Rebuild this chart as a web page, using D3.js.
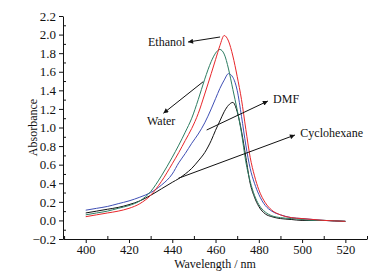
<!DOCTYPE html>
<html>
<head>
<meta charset="utf-8">
<script src="https://cdn.jsdelivr.net/npm/d3@7"></script>
<style>
	body { margin: 0; background: #fff; }
	#spectra-area text { font-family: "Liberation Serif", "Times New Roman", serif; fill: #111; }
	.axis path, .axis line { stroke: #111; stroke-width: 1; }
</style>
</head>
<body>
<div id="spectra-area"></div>
<script>

// wavelength grid (nm)
let wavelength = [400, 405, 410, 415, 420, 425, 430, 435, 440, 443, 446, 449, 452, 455, 458, 460, 462, 464, 466, 468,
	470, 472, 474, 476, 478, 480, 483, 486, 490, 495, 500, 505, 510, 515, 520];

// absorbance
let ethanol = [0.04, 0.06, 0.08, 0.10, 0.13, 0.18, 0.27, 0.42, 0.61, 0.73, 0.86, 0.99, 1.15, 1.36, 1.58, 1.73, 1.88, 1.99, 1.93, 1.77,
	1.55, 1.30, 0.98, 0.68, 0.48, 0.33, 0.19, 0.11, 0.06, 0.03, 0.02, 0.01, 0.0, -0.005, -0.01];
let water = [0.06, 0.08, 0.10, 0.13, 0.16, 0.21, 0.31, 0.48, 0.68, 0.81, 0.95, 1.10, 1.30, 1.52, 1.71, 1.80, 1.84, 1.79, 1.63, 1.41,
	1.19, 0.94, 0.63, 0.42, 0.27, 0.17, 0.09, 0.05, 0.03, 0.02, 0.01, 0.0, 0.0, -0.005, -0.01];
let dmf = [0.11, 0.13, 0.15, 0.18, 0.21, 0.25, 0.30, 0.38, 0.50, 0.62, 0.72, 0.83, 0.93, 1.05, 1.20, 1.31, 1.42, 1.51, 1.58, 1.54,
	1.40, 1.12, 0.81, 0.56, 0.40, 0.28, 0.16, 0.10, 0.06, 0.03, 0.02, 0.01, 0.0, -0.005, -0.01];
let cyclohexane = [0.08, 0.10, 0.12, 0.14, 0.17, 0.21, 0.27, 0.34, 0.41, 0.45, 0.50, 0.56, 0.64, 0.73, 0.86, 0.97, 1.07, 1.17, 1.24, 1.27,
	1.17, 0.96, 0.68, 0.40, 0.25, 0.15, 0.07, 0.04, 0.02, 0.01, 0.0, 0.0, 0.0, -0.005, -0.01];

let seriesNames = ["Cyclohexane", "DMF", "Water", "Ethanol"];
let seriesValues = [cyclohexane, dmf, water, ethanol];
let seriesColors = ["#111111", "#3f4fb5", "#2d7d62", "#e8262a"];

// tick labels
let xTicks = [400, 420, 440, 460, 480, 500, 520];
let yTicks = [-0.2, 0.0, 0.2, 0.4, 0.6, 0.8, 1.0, 1.2, 1.4, 1.6, 1.8, 2.0, 2.2];

// annotations: label anchor and arrow (tail -> head) in data units
let labelText = ["Ethanol", "Water", "DMF", "Cyclohexane"];
let labelAt = [[428.8, 1.877], [428.3, 1.027], [486.6, 1.264], [499.2, 0.898]];
let arrowFrom = [[462.1, 1.974], [454.3, 1.493], [455.9, 0.973], [442.8, 0.453]];
let arrowTo = [[447.3, 1.92], [435.9, 1.153], [484.2, 1.285], [496.7, 0.919]];


class SpectraVis {

	constructor(parentElement) {
		this.parentElement = parentElement;
		this.initVis();
	}

	initVis() {
		let vis = this;

		vis.margin = { top: 16, right: 13, bottom: 33, left: 63 };
		vis.width = 380 - vis.margin.left - vis.margin.right;
		vis.height = 272 - vis.margin.top - vis.margin.bottom;

		vis.root = d3.select("#" + vis.parentElement).append("svg")
			.attr("width", 380)
			.attr("height", 272);

		vis.root.append("defs").append("marker")
			.attr("id", "head")
			.attr("viewBox", "0 0 10 10")
			.attr("refX", 10)
			.attr("refY", 5)
			.attr("markerUnits", "userSpaceOnUse")
			.attr("markerWidth", 7)
			.attr("markerHeight", 5)
			.attr("orient", "auto")
			.append("path")
			.attr("d", "M0,0 L10,5 L0,10 Z")
			.attr("fill", "#111");

		vis.svg = vis.root.append("g")
			.attr("transform", "translate(" + vis.margin.left + "," + vis.margin.top + ")");

		vis.x = d3.scaleLinear()
			.domain([389.5, 530])
			.range([0, vis.width]);

		vis.y = d3.scaleLinear()
			.domain([-0.2, 2.2])
			.range([vis.height, 0]);

		vis.wrangleData();
	}

	wrangleData() {
		let vis = this;

		vis.displayData = seriesNames.map((name, i) => ({
			name: name,
			color: seriesColors[i],
			values: wavelength.map((w, j) => ({ w: w, a: seriesValues[i][j] }))
		}));

		vis.updateVis();
	}

	updateVis() {
		let vis = this;

		// minor ticks point inward, majors outward
		let xMinor = d3.range(390, 531, 10).filter(d => !xTicks.includes(d));
		let yMinor = d3.range(-0.1, 2.2, 0.2);

		vis.svg.append("g")
			.attr("class", "axis")
			.attr("transform", "translate(0," + vis.height + ")")
			.call(d3.axisTop(vis.x).tickValues(xMinor).tickSize(3).tickFormat("").tickSizeOuter(0))
			.select(".domain").remove();

		vis.svg.append("g")
			.attr("class", "axis")
			.call(d3.axisRight(vis.y).tickValues(yMinor).tickSize(3).tickFormat("").tickSizeOuter(0))
			.select(".domain").remove();

		vis.svg.append("g")
			.attr("class", "axis x-axis")
			.attr("transform", "translate(0," + vis.height + ")")
			.call(d3.axisBottom(vis.x).tickValues(xTicks).tickSize(4).tickSizeOuter(0).tickPadding(2))
			.selectAll("text")
			.style("font-size", "12.5px");

		vis.svg.append("g")
			.attr("class", "axis y-axis")
			.call(d3.axisLeft(vis.y).tickValues(yTicks).tickSize(4).tickSizeOuter(0).tickPadding(3)
				.tickFormat(d3.format(".1f")))
			.selectAll("text")
			.style("font-size", "13px");

		vis.svg.append("text")
			.attr("x", vis.width / 2)
			.attr("y", vis.height + 29)
			.attr("text-anchor", "middle")
			.style("font-size", "12px")
			.text("Wavelength / nm");

		vis.svg.append("text")
			.attr("transform", "translate(-30," + (vis.height / 2) + ") rotate(-90)")
			.attr("text-anchor", "middle")
			.attr("dy", "0.35em")
			.style("font-size", "12px")
			.text("Absorbance");

		let line = d3.line()
			.x(d => vis.x(d.w))
			.y(d => vis.y(d.a))
			.curve(d3.curveMonotoneX);

		vis.svg.selectAll(".spectrum")
			.data(vis.displayData)
			.enter()
			.append("path")
			.attr("class", "spectrum")
			.attr("fill", "none")
			.attr("stroke", d => d.color)
			.attr("stroke-width", 1)
			.attr("d", d => line(d.values));

		vis.svg.selectAll(".arrow")
			.data(labelText)
			.enter()
			.append("line")
			.attr("class", "arrow")
			.attr("x1", (d, i) => vis.x(arrowFrom[i][0]))
			.attr("y1", (d, i) => vis.y(arrowFrom[i][1]))
			.attr("x2", (d, i) => vis.x(arrowTo[i][0]))
			.attr("y2", (d, i) => vis.y(arrowTo[i][1]))
			.attr("stroke", "#111")
			.attr("stroke-width", 1)
			.attr("marker-end", "url(#head)");

		vis.svg.selectAll(".label")
			.data(labelText)
			.enter()
			.append("text")
			.attr("class", "label")
			.attr("x", (d, i) => vis.x(labelAt[i][0]))
			.attr("y", (d, i) => vis.y(labelAt[i][1]))
			.style("font-size", "12px")
			.text(d => d);
	}
}

new SpectraVis("spectra-area");

</script>
</body>
</html>
